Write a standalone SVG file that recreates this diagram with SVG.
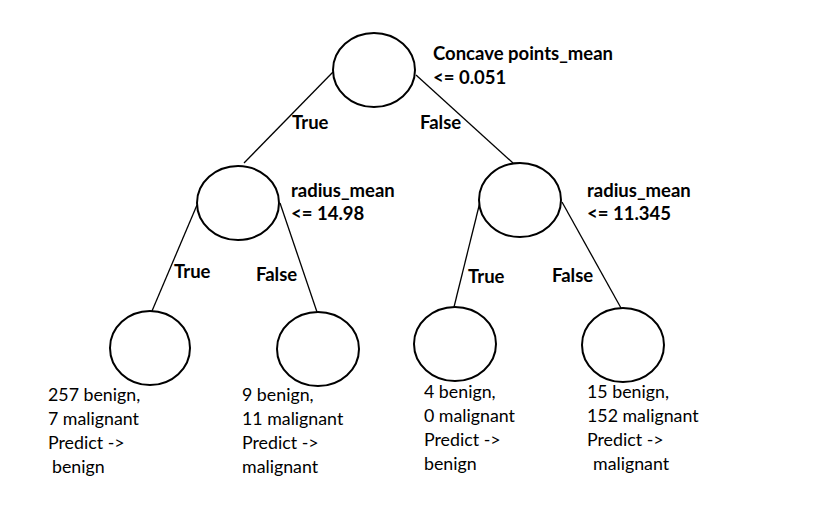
<svg xmlns="http://www.w3.org/2000/svg" width="813" height="506" viewBox="0 0 813 506">
<style>
.n{fill:#fff;stroke:#000;stroke-width:2}
.e{stroke:#000;stroke-width:1.3;fill:none}
text{font-family:Lato,"Open Sans","Liberation Sans",sans-serif;font-size:17.8px;fill:#000}
.b{font-weight:bold;font-size:18.5px}
</style>
<rect width="813" height="506" fill="#fff"/>
<g id="connectors">
<line class="e" x1="333" y1="72" x2="244" y2="163"/>
<line class="e" x1="416" y1="75" x2="513" y2="163"/>
<line class="e" x1="197" y1="205" x2="152" y2="311"/>
<line class="e" x1="280" y1="203" x2="317" y2="312"/>
<line class="e" x1="480" y1="202" x2="454" y2="307"/>
<line class="e" x1="562" y1="202" x2="621" y2="308"/>
</g>
<g id="edge-labels">
<text class="b" x="292" y="129">True</text>
<text class="b" x="420" y="129">False</text>
<text class="b" x="174" y="278">True</text>
<text class="b" x="256" y="281">False</text>
<text class="b" x="468" y="283">True</text>
<text class="b" x="552" y="282">False</text>
</g>
<g id="root">
<ellipse class="n" cx="374" cy="70" rx="41" ry="37"/>
<text class="b" x="433" y="60">Concave points_mean</text>
<text class="b" x="433" y="84">&lt;= 0.051</text>
</g>
<g id="left">
<ellipse class="n" cx="238" cy="203" rx="41" ry="37"/>
<text class="b" x="291" y="197">radius_mean</text>
<text class="b" x="291" y="220">&lt;= 14.98</text>
</g>
<g id="right">
<ellipse class="n" cx="520" cy="200" rx="41" ry="37"/>
<text class="b" x="587" y="197">radius_mean</text>
<text class="b" x="587" y="220">&lt;= 11.345</text>
</g>
<g id="leaf1">
<ellipse class="n" cx="150" cy="348" rx="40" ry="37"/>
<text x="48" y="401">257 benign,</text>
<text x="48" y="425">7 malignant</text>
<text x="48" y="449">Predict -&gt;</text>
<text x="52" y="473">benign</text>
</g>
<g id="leaf2">
<ellipse class="n" cx="318" cy="349" rx="41" ry="37"/>
<text x="242" y="401">9 benign,</text>
<text x="242" y="425">11 malignant</text>
<text x="242" y="449">Predict -&gt;</text>
<text x="242" y="473">malignant</text>
</g>
<g id="leaf3">
<ellipse class="n" cx="455" cy="344" rx="41" ry="37"/>
<text x="424" y="398">4 benign,</text>
<text x="424" y="422">0 malignant</text>
<text x="424" y="446">Predict -&gt;</text>
<text x="424" y="470">benign</text>
</g>
<g id="leaf4">
<ellipse class="n" cx="623" cy="345" rx="41" ry="37"/>
<text x="587" y="398">15 benign,</text>
<text x="587" y="422">152 malignant</text>
<text x="587" y="446">Predict -&gt;</text>
<text x="593" y="470">malignant</text>
</g>
</svg>
